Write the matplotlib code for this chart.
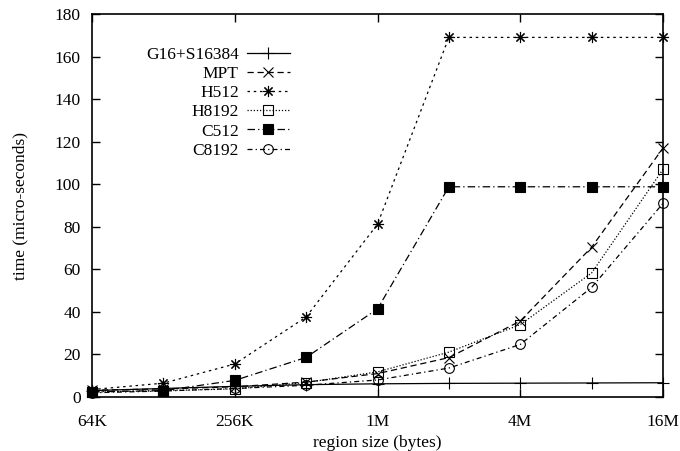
import matplotlib
matplotlib.use("Agg")
import matplotlib.pyplot as plt
from matplotlib.ticker import FixedLocator, FixedFormatter, NullLocator

plt.rcParams["font.family"] = ["Liberation Serif", "DejaVu Serif"]
plt.rcParams["font.size"] = 12.5

# region sizes in bytes (64K ... 16M, powers of two)
region_bytes = [65536, 131072, 262144, 524288, 1048576, 2097152, 4194304, 8388608, 16777216]
tick_bytes = [65536, 262144, 1048576, 4194304, 16777216]
tick_labels = ["64K", "256K", "1M", "4M", "16M"]

# measured times (micro-seconds)
g16_s16384 = [3.0, 4.0, 5.0, 5.8, 6.2, 6.4, 6.5, 6.6, 6.7]
mpt = [3.2, 3.8, 4.8, 7.0, 11.0, 18.5, 35.7, 70.4, 117.0]
h512 = [3.5, 6.5, 15.5, 37.6, 81.2, 169.0, 169.0, 169.0, 169.0]
h8192 = [2.3, 3.0, 3.8, 6.8, 11.8, 21.1, 34.0, 58.3, 107.0]
c512 = [2.5, 3.0, 7.8, 18.6, 41.4, 98.8, 98.8, 98.8, 98.8]
c8192 = [2.0, 2.8, 4.0, 5.5, 8.0, 13.6, 24.7, 51.5, 91.0]

fig = plt.figure(figsize=(6.8, 4.51), dpi=100)
ax = fig.add_axes([92 / 680, 1 - 397 / 451, (663 - 92) / 680, (397 - 14) / 451])

lw = 0.9
ms = 8
series = [
    ("G16+S16384", g16_s16384, dict(linestyle="-", marker="+", markersize=ms + 1)),
    ("MPT", mpt, dict(linestyle=(0, (5, 3)), marker="x", markersize=ms - 1)),
    ("H512", h512, dict(linestyle=(0, (2, 3)), marker=(8, 2, 0), markersize=ms)),
    ("H8192", h8192, dict(linestyle=(0, (1, 1.5)), marker="s", markersize=ms - 1,
                          markerfacecolor="none")),
    ("C512", c512, dict(linestyle=(0, (6, 2.5, 1, 2.5)), marker="s", markersize=ms - 1)),
    ("C8192", c8192, dict(linestyle=(0, (4, 2.5, 1, 2.5)), marker="o", markersize=ms - 1,
                          markerfacecolor="none")),
]
for name, vals, style in series:
    ax.plot(region_bytes, vals, color="black", linewidth=lw, markeredgewidth=0.8,
            label=name, clip_on=False, **style)

ax.set_xscale("log", base=2)
ax.set_xlim(region_bytes[0], region_bytes[-1])
ax.set_ylim(0, 180)
ax.xaxis.set_major_locator(FixedLocator(tick_bytes))
ax.xaxis.set_major_formatter(FixedFormatter(tick_labels))
ax.xaxis.set_minor_locator(NullLocator())
ax.set_yticks(range(0, 181, 20))

ax.tick_params(axis="both", which="major", direction="in", length=6,
               width=1.0, top=True, right=True)
ax.tick_params(axis="x", pad=12)
ax.tick_params(axis="y", pad=8)
for sp in ax.spines.values():
    sp.set_linewidth(1.2)

ax.set_xlabel("region size (bytes)", labelpad=4)
ax.set_ylabel("time (micro-seconds)", labelpad=19)

ax.legend(loc="upper right", bbox_to_anchor=(290 / 680, 1 - 47 / 451),
          bbox_transform=fig.transFigure, frameon=False, markerfirst=False,
          handlelength=2.5, handletextpad=0.45, labelspacing=0.17,
          borderpad=0, borderaxespad=0)

fig.savefig("out.png", dpi=100)
